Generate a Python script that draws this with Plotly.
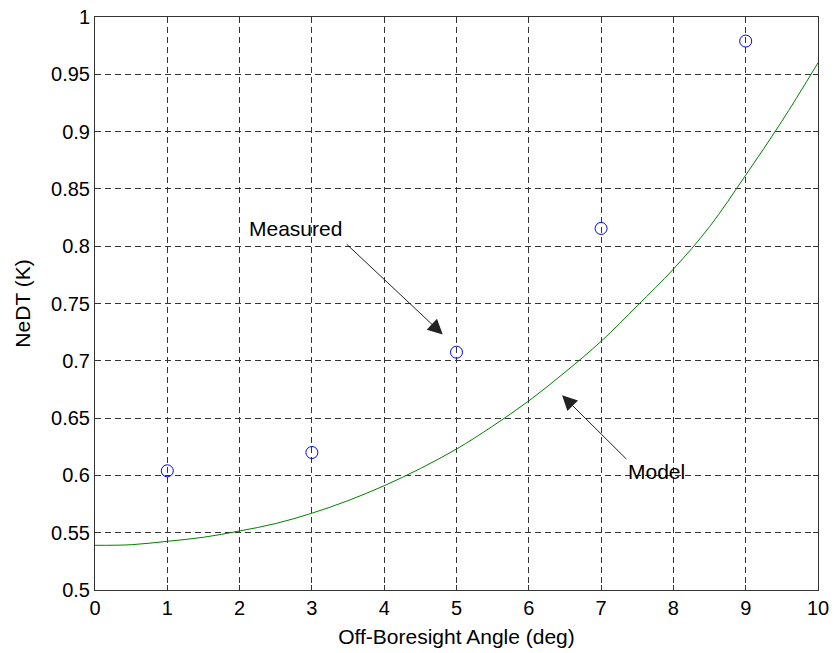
import plotly.graph_objects as go

# Measured points
meas_x = [1, 3, 5, 7, 9]
meas_y = [0.604, 0.620, 0.7075, 0.8155, 0.979]

# Model curve
model_x = [0, 0.5, 1, 1.5, 2, 2.5, 3, 3.5, 4, 4.5, 5, 5.5, 6, 6.5, 7, 7.5, 8, 8.5, 9, 9.5, 10]
model_y = [0.539, 0.5395, 0.5425, 0.546, 0.5515, 0.558, 0.567, 0.578, 0.591, 0.606, 0.623,
           0.643, 0.665, 0.690, 0.717, 0.748, 0.780, 0.817, 0.862, 0.909, 0.960]

x_ticks = list(range(0, 11))
y_ticks = [0.5, 0.55, 0.6, 0.65, 0.7, 0.75, 0.8, 0.85, 0.9, 0.95, 1.0]
y_tick_labels = ["0.5", "0.55", "0.6", "0.65", "0.7", "0.75", "0.8", "0.85", "0.9", "0.95", "1"]

font_family = "Liberation Sans, Arial, sans-serif"

fig = go.Figure()
fig.add_trace(go.Scatter(x=model_x, y=model_y, mode="lines", line=dict(color="#008000", width=1, shape="spline"),
                         showlegend=False, hoverinfo="skip"))
fig.add_trace(go.Scatter(x=meas_x, y=meas_y, mode="markers",
                         marker=dict(symbol="circle-open", size=12, color="#0000ff", line=dict(width=1)),
                         showlegend=False))

axis_common = dict(
    showline=True, linecolor="#333333", linewidth=1, mirror="ticks",
    ticks="inside", ticklen=5, tickcolor="#333333",
    showgrid=True, gridcolor="#333333", griddash="6px,4px", gridwidth=1,
    zeroline=False, automargin=False, ticklabeloverflow="allow",
    tickfont=dict(family=font_family, size=20, color="#000000"),
)

fig.update_xaxes(range=[0, 10], tickvals=x_ticks, ticktext=[str(v) for v in x_ticks],
                 title=dict(text="Off-Boresight Angle (deg)", font=dict(family=font_family, size=21, color="#000"), standoff=11),
                 **axis_common)
fig.update_yaxes(range=[0.5, 1.0], tickvals=y_ticks, ticktext=y_tick_labels,
                 title=dict(text="NeDT (K)", font=dict(family=font_family, size=21, color="#000"), standoff=14),
                 **axis_common)

# Annotations
fig.add_annotation(x=2.77, y=0.8157, text="Measured", showarrow=False, xref="x", yref="y",
                   font=dict(family=font_family, size=21, color="#000"))
fig.add_annotation(x=4.81, y=0.723, ax=3.46, ay=0.803, axref="x", ayref="y", xref="x", yref="y",
                   text="", showarrow=True, arrowhead=2, arrowsize=3, arrowwidth=1, arrowcolor="#222222")
fig.add_annotation(x=7.77, y=0.603, text="Model", showarrow=False, xref="x", yref="y",
                   font=dict(family=font_family, size=21, color="#000"))
fig.add_annotation(x=6.46, y=0.670, ax=7.37, ay=0.613, axref="x", ayref="y", xref="x", yref="y",
                   text="", showarrow=True, arrowhead=2, arrowsize=3, arrowwidth=1, arrowcolor="#222222")

fig.update_layout(
    width=834, height=653,
    margin=dict(l=95, r=16, t=17, b=63),
    paper_bgcolor="white", plot_bgcolor="white",
    font=dict(family=font_family, size=20, color="#000"),
)

# remove the page's default 8px body margin so the figure fills the window
fig.write_html("out.html", config={"displayModeBar": False},
               post_script="document.body.style.margin='0';document.body.style.overflow='hidden';")
